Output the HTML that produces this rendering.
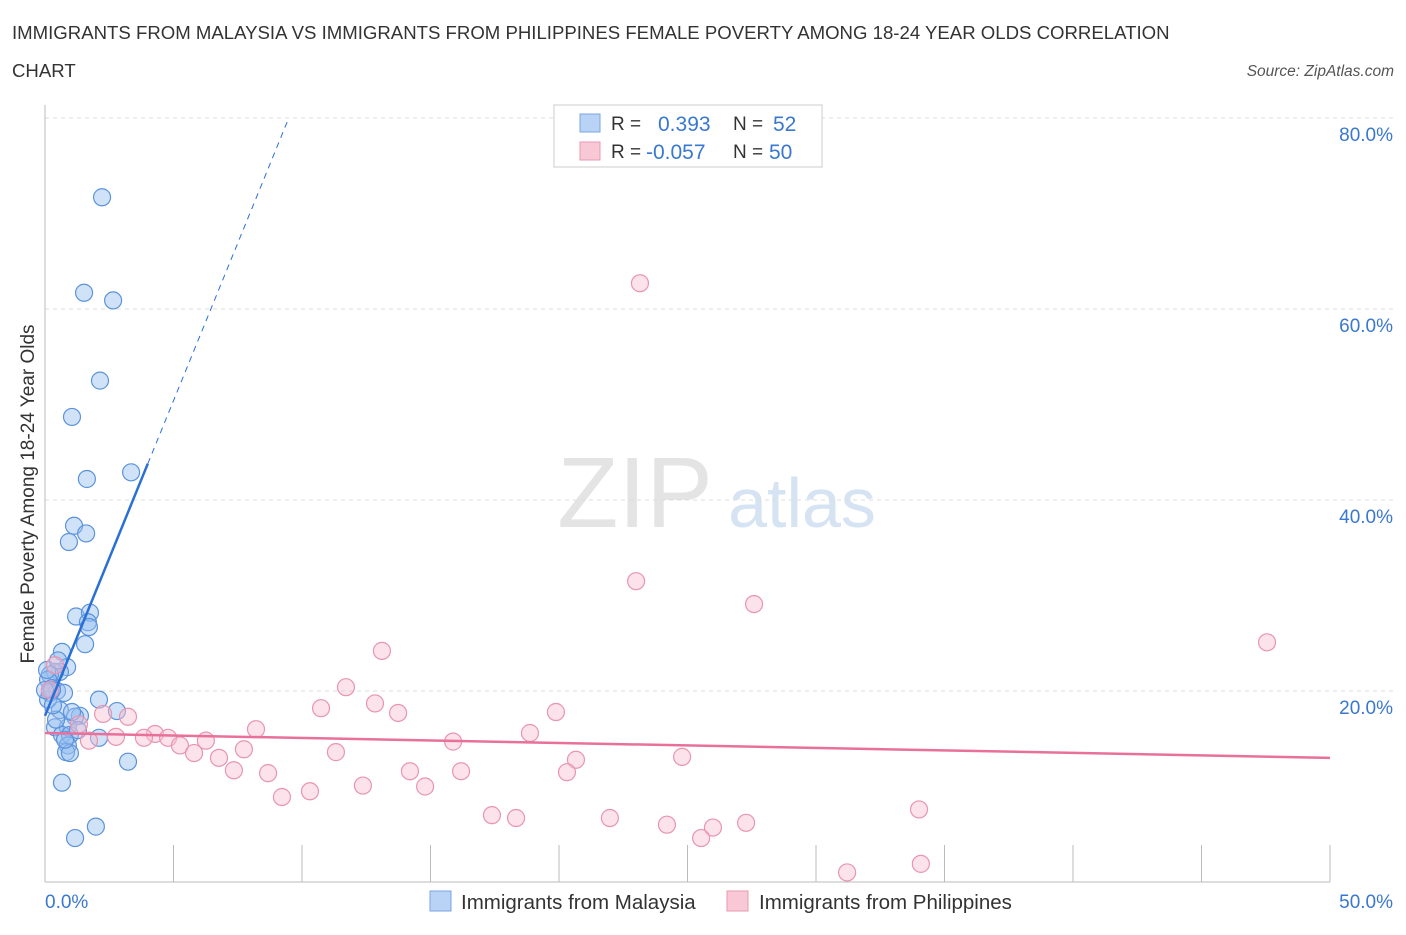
<!DOCTYPE html>
<html><head><meta charset="utf-8"><style>
body{margin:0;background:#fff;font-family:"Liberation Sans",sans-serif;}
svg text{font-family:"Liberation Sans",sans-serif;}
</style></head><body>
<svg id="c" width="1406" height="930">
<text x="12" y="39" font-size="18.6" fill="#333">IMMIGRANTS FROM MALAYSIA VS IMMIGRANTS FROM PHILIPPINES FEMALE POVERTY AMONG 18-24 YEAR OLDS CORRELATION</text>
<text x="12" y="77" font-size="18.6" fill="#333">CHART</text>
<text x="1394" y="76" font-size="15.5" fill="#555" font-style="italic" text-anchor="end">Source: ZipAtlas.com</text>
<text x="635" y="527" font-size="100" fill="#e4e4e4" font-family="Liberation Serif" text-anchor="middle">ZIP</text>
<text x="802" y="527" font-size="70" fill="#d5e3f3" text-anchor="middle">atlas</text>
<text transform="translate(34,494) rotate(-90)" font-size="19" fill="#333" text-anchor="middle">Female Poverty Among 18-24 Year Olds</text>
<g id="grid"></g><g id="marks"></g>
<g>
<rect x="554" y="105" width="268" height="62" fill="#fff" stroke="#ccc"/>
<rect x="580" y="114" width="20" height="18" fill="#b8d3f5" stroke="#7aa6e0"/>
<text x="611" y="130" font-size="19" fill="#333">R =</text><text x="658" y="131" font-size="21" fill="#3a78d0">0.393</text>
<text x="733" y="130" font-size="19" fill="#333">N =</text><text x="773" y="131" font-size="21" fill="#3a78d0">52</text>
<rect x="580" y="142" width="20" height="18" fill="#f8c8d6" stroke="#e79ab2"/>
<text x="611" y="158" font-size="19" fill="#333">R =</text><text x="646" y="159" font-size="21" fill="#3a78d0">-0.057</text>
<text x="733" y="158" font-size="19" fill="#333">N =</text><text x="769" y="159" font-size="21" fill="#3a78d0">50</text>
</g>
<g>
<rect x="430" y="891" width="21" height="20" fill="#b8d3f5" stroke="#7aa6e0"/>
<text x="461" y="909" font-size="20.5" fill="#333">Immigrants from Malaysia</text>
<rect x="727" y="891" width="21" height="20" fill="#f8c8d6" stroke="#e79ab2"/>
<text x="759" y="909" font-size="20.5" fill="#333">Immigrants from Philippines</text>
</g>
</svg>
<script>
const yTicks=[20,40,60,80];
const yTickLabels=["20.0%","40.0%","60.0%","80.0%"];
const xTicks=[0,5,10,15,20,25,30,35,40,45,50];
const blueX=[2.22,1.52,2.65,2.14,1.05,1.63,3.35,1.13,1.60,0.93,1.21,1.75,1.67,1.71,1.56,0.66,0.86,0.58,0.39,0.19,0.12,0.27,0.47,0.74,0.19,2.10,2.80,0.58,1.36,1.17,0.39,0.89,0.66,0.97,2.10,0.89,0.82,0.97,3.23,0.66,1.98,1.17,0.12,0.27,0.43,0.78,1.28,0.0,0.08,0.51,0.31,1.05];
const blueY=[71.7,61.7,60.9,52.5,48.7,42.2,42.9,37.3,36.5,35.6,27.8,28.2,27.2,26.7,24.9,24.1,22.5,22.0,22.0,21.7,21.2,20.3,20.0,19.8,19.8,19.1,17.9,18.0,17.4,17.3,16.2,16.2,15.4,15.4,15.1,14.3,13.6,13.5,12.6,10.4,5.8,4.6,19.1,20.1,17.0,14.9,15.9,20.1,22.2,23.2,18.5,17.8];
const pinkX=[23.15,23.0,27.59,47.55,13.11,11.71,12.84,10.74,13.74,19.88,8.21,18.87,15.88,4.28,4.79,6.26,3.85,2.76,5.25,7.74,11.32,5.80,6.77,24.79,20.66,7.35,8.68,14.20,16.19,20.31,12.37,14.79,9.22,10.31,17.39,18.33,21.98,24.20,25.99,27.28,25.53,34.01,34.08,31.21,2.26,3.23,1.71,1.32,0.39,0.19];
const pinkY=[62.7,31.5,29.1,25.1,24.2,20.4,18.7,18.2,17.7,17.8,16.0,15.6,14.7,15.5,15.1,14.8,15.1,15.2,14.3,13.9,13.6,13.5,13.0,13.1,12.8,11.7,11.4,11.6,11.6,11.5,10.1,10.0,8.9,9.5,7.0,6.7,6.7,6.0,5.7,6.2,4.6,7.6,1.9,1.0,17.6,17.3,14.8,16.5,22.7,20.1];
const blueTrend=[17.4,6.6];
const pinkTrend=[15.6,-0.052];
const X=v=>45+v*1285/50, Y=v=>882-v*191/20;
const NS="http://www.w3.org/2000/svg";
function mk(p,t,a){const e=document.createElementNS(NS,t);for(const k in a)e.setAttribute(k,a[k]);p.appendChild(e);return e;}
const g=document.getElementById('grid'),m=document.getElementById('marks');
yTicks.forEach((t,i)=>{
 const l=mk(g,'line',{x1:45,x2:1393,y1:Y(t),y2:Y(t),stroke:'#ddd','stroke-dasharray':'4,4'});
 
 
 const tx=mk(g,'text',{x:1393,y:Y(t)+23,'font-size':19,fill:'#3a78d0','text-anchor':'end'});tx.textContent=yTickLabels[i];
 
 
});
const topGrid=mk(g,'line',{x1:45,x2:1393,y1:118,y2:118,stroke:'#ddd','stroke-dasharray':'4,4'});


const ya=mk(g,'line',{x1:45,x2:45,y1:105,y2:882,stroke:'#bbb'});


const xa=mk(g,'line',{x1:45,x2:1330,y1:882,y2:882,stroke:'#bbb'});


xTicks.forEach(t=>{const l=mk(g,'line',{x1:X(t),x2:X(t),y1:845,y2:882,stroke:'#bbb'});
 
 });
const xl0=mk(g,'text',{x:45,y:908,'font-size':19,fill:'#3a78d0'});xl0.textContent=xTicks[0].toFixed(1)+'%';


const xl1=mk(g,'text',{x:1393,y:908,'font-size':19,fill:'#3a78d0','text-anchor':'end'});xl1.textContent=xTicks[xTicks.length-1].toFixed(1)+'%';


blueX.forEach((x,i)=>{const c=mk(m,'circle',{cx:X(x),cy:Y(blueY[i]),r:8.5,fill:'rgba(150,190,240,0.45)',stroke:'#5b93dc','stroke-width':1.2});
 
 });
pinkX.forEach((x,i)=>{const c=mk(m,'circle',{cx:X(x),cy:Y(pinkY[i]),r:8.5,fill:'rgba(248,190,208,0.45)',stroke:'#e895b0','stroke-width':1.2});
 
 });
const bx1=4.0,bx2=(80-blueTrend[0])/blueTrend[1];
const bt=mk(m,'line',{x1:X(0),y1:Y(blueTrend[0]),x2:X(bx1),y2:Y(blueTrend[0]+blueTrend[1]*bx1),stroke:'#2a6fd6','stroke-width':2.5});


const bd=mk(m,'line',{x1:X(bx1),y1:Y(blueTrend[0]+blueTrend[1]*bx1),x2:X(bx2),y2:Y(80),stroke:'#2a6fd6','stroke-width':1,'stroke-dasharray':'6,5'});


const pt=mk(m,'line',{x1:X(0),y1:Y(pinkTrend[0]),x2:X(50),y2:Y(pinkTrend[0]+pinkTrend[1]*50),stroke:'#e8709a','stroke-width':2.5});


</script>
</body></html>
